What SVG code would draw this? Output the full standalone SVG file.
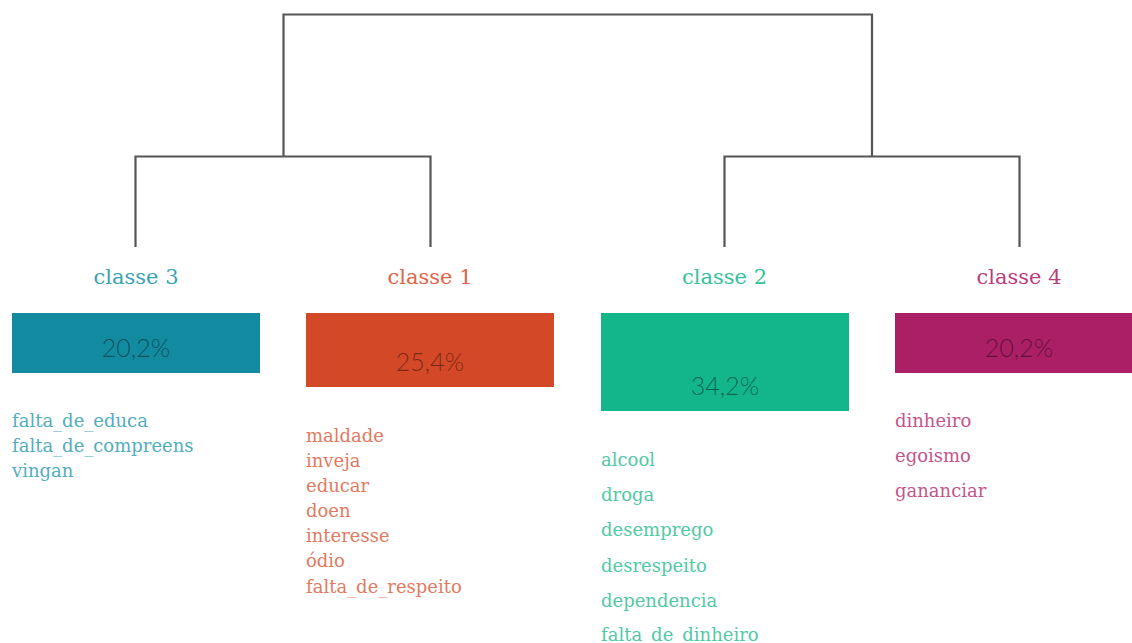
<svg xmlns="http://www.w3.org/2000/svg" width="1132" height="643" viewBox="0 0 1132 643">
<style>
.edge{fill:none;stroke:#555;stroke-width:2.2;stroke-linecap:butt;stroke-linejoin:miter}
.title{font-family:"DejaVu Serif","Liberation Serif",serif;font-size:21px;text-anchor:middle;font-weight:300}
.word{font-family:"DejaVu Serif","Liberation Serif",serif;font-size:18px;font-weight:300}
.pct{font-family:Lato,"Open Sans",sans-serif;font-size:25px;font-weight:300;text-anchor:middle;fill:#000;fill-opacity:0.45}
.c3{fill:#3aa3b5}.c1{fill:#df6447}.c2{fill:#36c29b}.c4{fill:#bd3c7c}
.w3{fill:#52adbd}.w1{fill:#e37a60}.w2{fill:#52c9a6}.w4{fill:#c5568c}
</style>
<g id="connectors">
<path class="edge" d="M283.5,156.5 V14.5 H872 V156.5"/>
<path class="edge" d="M135.5,247 V156.5 H430.5 V247"/>
<path class="edge" d="M724.5,247 V156.5 H1019.5 V247"/>
</g>
<g id="classe3">
<text class="title c3" x="136" y="284">classe 3</text>
<rect x="12" y="313" width="248" height="60" fill="#128ba1"/>
<text class="pct" x="136" y="357">20,2%</text>
<text class="word w3" x="12" y="427">falta_de_educa</text>
<text class="word w3" x="12" y="452">falta_de_compreens</text>
<text class="word w3" x="12" y="477">vingan</text>
</g>
<g id="classe1">
<text class="title c1" x="430" y="284">classe 1</text>
<rect x="306" y="313" width="248" height="74" fill="#d34826"/>
<text class="pct" x="430" y="371">25,4%</text>
<text class="word w1" x="306" y="442">maldade</text>
<text class="word w1" x="306" y="467">inveja</text>
<text class="word w1" x="306" y="492">educar</text>
<text class="word w1" x="306" y="517">doen</text>
<text class="word w1" x="306" y="542">interesse</text>
<text class="word w1" x="306" y="567">ódio</text>
<text class="word w1" x="306" y="593">falta_de_respeito</text>
</g>
<g id="classe2">
<text class="title c2" x="724.5" y="284">classe 2</text>
<rect x="601" y="313" width="248" height="98" fill="#13b58b"/>
<text class="pct" x="725" y="395">34,2%</text>
<text class="word w2" x="601" y="466">alcool</text>
<text class="word w2" x="601" y="501">droga</text>
<text class="word w2" x="601" y="536">desemprego</text>
<text class="word w2" x="601" y="572">desrespeito</text>
<text class="word w2" x="601" y="607">dependencia</text>
<text class="word w2" x="601" y="641">falta_de_dinheiro</text>
</g>
<g id="classe4">
<text class="title c4" x="1019" y="284">classe 4</text>
<rect x="895" y="313" width="237" height="60" fill="#aa1f66"/>
<text class="pct" x="1019" y="357">20,2%</text>
<text class="word w4" x="895" y="427">dinheiro</text>
<text class="word w4" x="895" y="462">egoismo</text>
<text class="word w4" x="895" y="497">gananciar</text>
</g>
</svg>
